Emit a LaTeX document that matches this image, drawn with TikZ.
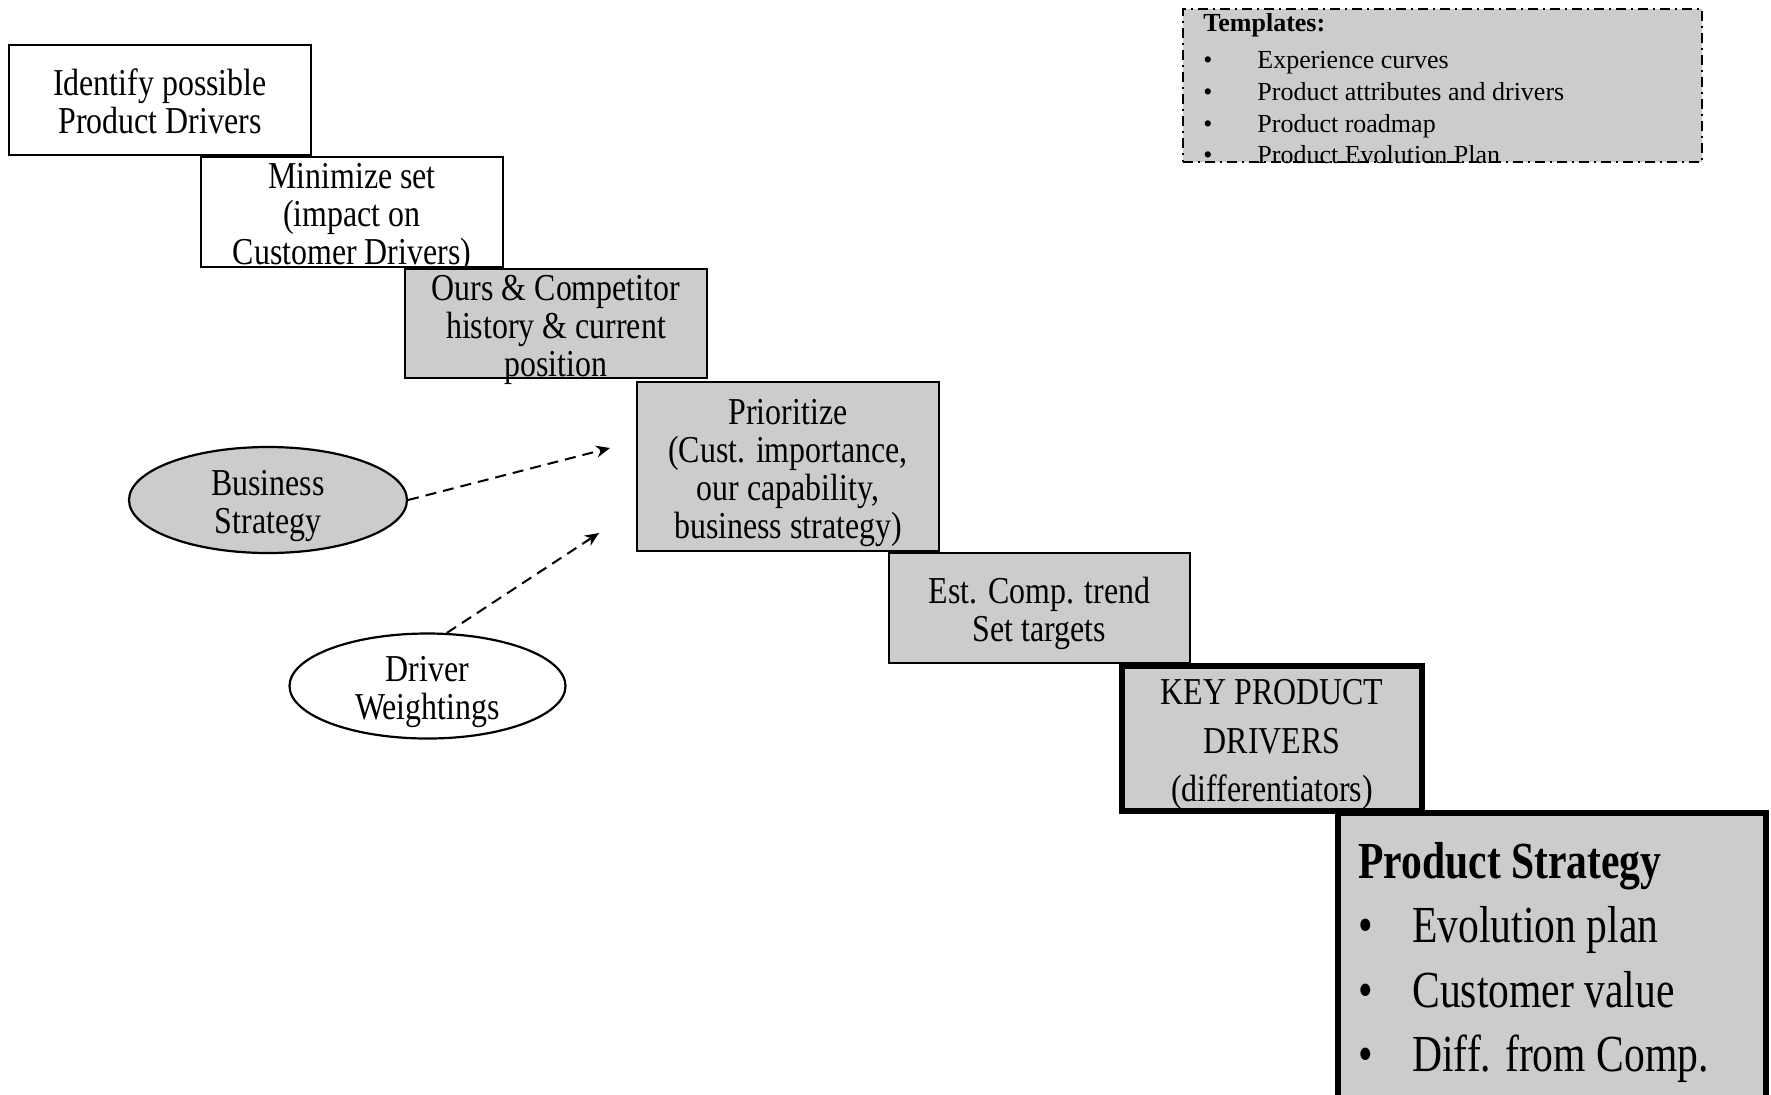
\documentclass[tikz,border=0pt]{standalone}
\usepackage{fontspec}
\setmainfont{Liberation Serif}[FakeStretch=0.84]
\newfontfamily\tmplfont{Liberation Serif}
\newfontfamily\strategyfont{Liberation Serif}[FakeStretch=0.8]
\usetikzlibrary{arrows.meta,shapes.geometric}
\definecolor{boxgray}{RGB}{204,204,204}

% uniform first-line height and last-line depth, so every label sits alike
\newcommand{\padtop}{\rule{0pt}{19pt}}
\newcommand{\padbot}{\rule[-4.5pt]{0pt}{4.5pt}}

\tikzset{
  stepbox/.style={draw, rectangle, line width=1.1pt, inner xsep=0pt, inner ysep=-4pt,
                  align=center, font=\fontsize{19}{19}\selectfont},
  shaded/.style={fill=boxgray},
  heavy/.style={line width=2.8pt},
  oval/.style={draw, ellipse, line width=1.1pt, inner xsep=0pt, inner ysep=-4pt,
               align=center, font=\fontsize{19}{19}\selectfont},
  influence/.style={line width=1pt, dash pattern=on 5.5pt off 3.5pt,
                    -{Stealth[length=7pt,width=6pt]}},
  listbox/.style={draw, rectangle, fill=boxgray, line width=1pt,
                  dash pattern=on 5pt off 2.5pt on 1pt off 2.5pt},
}

\begin{document}
\begin{tikzpicture}[x=0.5pt,y=-0.5pt]
\useasboundingbox (0,0) rectangle (1771,1094);
\clip (0,0) rectangle (1771,1094);

% templates list, top right
\node[listbox, minimum width=259.5pt, minimum height=76.5pt] (tmpl) at (1442.5,85.5) {};
\node[anchor=north west, inner sep=0pt, align=left,
      font=\tmplfont\fontsize{13}{15.9}\selectfont] (tmpltext) at (1203,13)
  {\textbf{Templates:}\\[2.6pt]
   \makebox[27pt][l]{\textbullet}Experience curves\\
   \makebox[27pt][l]{\textbullet}Product attributes and drivers\\
   \makebox[27pt][l]{\textbullet}Product roadmap\\
   \makebox[27pt][l]{\textbullet}Product Evolution Plan};

% staircase of steps
\node[stepbox, fill=white, minimum width=151pt, minimum height=55pt] (s1) at (160,100)
  {\padtop Identify possible\\Product Drivers\padbot};
\node[stepbox, fill=white, minimum width=151pt, minimum height=55pt] (s2) at (352,212)
  {\padtop Minimize set\\(impact on\\Customer Drivers)\padbot};
\node[stepbox, shaded, minimum width=151pt, minimum height=54.5pt] (s3) at (556,323.5)
  {\padtop Ours \& Competitor\\history \& current\\position\padbot};
\node[stepbox, shaded, minimum width=151pt, minimum height=84.5pt] (s4) at (788,466.5)
  {\padtop Prioritize\\(Cust. importance,\\our capability,\\business strategy)\padbot};
\node[stepbox, shaded, minimum width=150.5pt, minimum height=55pt] (s5) at (1039.5,608)
  {\padtop Est. Comp. trend\\Set targets\padbot};
\node[stepbox, shaded, heavy, minimum width=150pt, minimum height=72.5pt,
      font=\fontsize{19}{24.3}\selectfont] (s6) at (1272,738.5)
  {\padtop KEY PRODUCT\\DRIVERS\\(differentiators)\padbot};

% final outcome box, running off the lower edge
\node[draw, rectangle, shaded, heavy, minimum width=214pt, minimum height=153.5pt,
      inner sep=0pt] (s7) at (1552,966.5) {};
\node[anchor=north west, inner sep=0pt, align=left,
      font=\strategyfont\fontsize{26}{32.25}\selectfont] (s7text) at (1358,841.5)
  {\textbf{Product Strategy}\\
   \makebox[27pt][l]{\textbullet}Evolution plan\\
   \makebox[27pt][l]{\textbullet}Customer value\\
   \makebox[27pt][l]{\textbullet}Diff. from Comp.};

% inputs to prioritisation
\node[oval, shaded, minimum width=139pt, minimum height=53pt] (bs) at (268,500)
  {\padtop Business\\Strategy\padbot};
\node[oval, fill=white, minimum width=138pt, minimum height=52.5pt] (dw) at (427.5,686)
  {\padtop Driver\\Weightings\padbot};

\coordinate (bsTip) at (610,448);
\coordinate (dwTip) at (599,533);
\draw[influence] (bs.east) -- (bsTip);
\draw[influence] (dw.70) -- (dwTip);
\end{tikzpicture}
\end{document}
